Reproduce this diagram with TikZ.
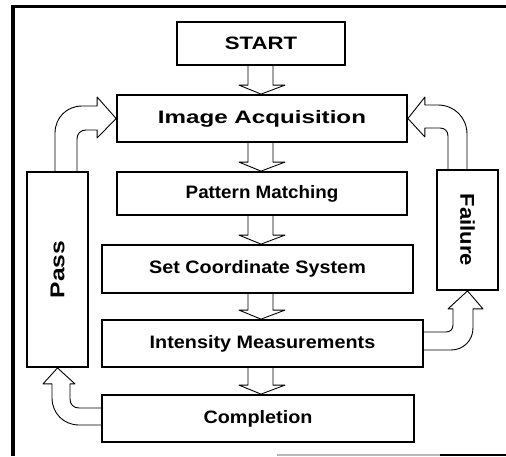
\documentclass[tikz,border=0pt]{standalone}
\usepackage{fontspec}
\setmainfont{Liberation Sans}[FakeStretch=1.1]
\usetikzlibrary{calc}
\tikzset{
  stepbox/.style={draw=black, line width=1.8pt, inner sep=0pt, font=\fontsize{18}{20}\selectfont\bfseries},
  sidebox/.style={draw=black, line width=1.8pt, inner sep=0pt, minimum width=61pt},
  sidetext/.style={font=\fontsize{20}{22}\selectfont\bfseries},
  arr/.style={draw=black, line width=0.9pt, line join=round}
}
\newcommand\hollowdown[2]{%
  \draw[arr] ($(axis |- #1.south)+(-13,0)$) -- ($(axis |- #2.north)+(-13,-9)$) -- ++(-9,0)
    -- (axis |- #2.north) -- ($(axis |- #2.north)+(24,-9)$) -- ++(-12,0)
    -- ($(axis |- #1.south)+(12,0)$);}
\begin{document}
\begin{tikzpicture}[x=1pt,y=-1pt]
\useasboundingbox (0,0) rectangle (506,456);
% frame
\draw[line width=3pt] (12,6.5) -- (506,6.5);
\draw[line width=3.5pt] (13,5) -- (13,456);
\draw[line width=2pt, gray!55] (277,455) -- (440,455);
\draw[line width=2.5pt] (440,455) -- (506,455);
\coordinate (axis) at (261,0);
% boxes
\node[stepbox, minimum width=168pt, minimum height=43pt] (start) at (261,43.5) {\scalebox{1.12}[1]{START}};
\node[stepbox, minimum width=290pt, minimum height=47pt] (ia) at (262,118.5) {\scalebox{1.22}[1]{Image Acquisition}};
\node[stepbox, minimum width=290pt, minimum height=43pt] (pm) at (262,193.5) {\scalebox{0.95}[1]{Pattern Matching}};
\node[stepbox, minimum width=311pt, minimum height=48pt] (scs) at (257.5,269) {Set Coordinate System};
\node[stepbox, minimum width=321pt, minimum height=47pt] (im) at (262.5,343.5) {Intensity Measurements};
\node[stepbox, minimum width=312pt, minimum height=47pt] (comp) at (258,418.5) {Completion};
\node[sidebox, minimum height=195pt] (pass) at (57.5,269.5) {};
\node[sidetext, rotate=90] (passlbl) at (pass.center) {\scalebox{1.12}[1]{Pass}};
\node[sidebox, minimum height=120pt] (fail) at (467.5,230) {};
\node[sidetext, rotate=-90] (faillbl) at (fail.center) {Failure};
% straight hollow arrows
\hollowdown{start}{ia}
\hollowdown{ia}{pm}
\hollowdown{pm}{scs}
\hollowdown{scs}{im}
\hollowdown{im}{comp}
% Pass -> Image Acquisition
\draw[arr] ($(pass.north)+(-2.5,0)$) -- ($(pass.north)+(-2.5,-38)$)
  .. controls +(0,-15.4) and +(-15.4,0) .. ($(ia.west)+(-34,-12.5)$)
  -- ($(ia.west)+(-19,-12.5)$) -- ++(0,-9) -- (ia.west) -- ($(ia.west)+(-19,19.5)$) -- ++(0,-8)
  -- ($(ia.west)+(-30,11.5)$) .. controls +(-5.5,0) and +(0,-5.5) .. ($(pass.north)+(19.5,-32)$)
  -- ($(pass.north)+(19.5,0)$);
% Failure -> Image Acquisition
\draw[arr] ($(fail.north)+(-19.5,0)$) -- ($(fail.north)+(-19.5,-33)$)
  .. controls +(0,-5) and +(5,0) .. ($(ia.east)+(32,9.5)$)
  -- ($(ia.east)+(17,9.5)$) -- ++(0,9) -- (ia.east) -- ($(ia.east)+(17,-21.5)$) -- ++(0,8)
  -- ($(ia.east)+(30,-13.5)$) .. controls +(16.5,0) and +(0,-16.5) .. ($(fail.north)+(-0.5,-35)$)
  -- ($(fail.north)+(-0.5,0)$);
% Intensity Measurements -> Failure
\draw[arr] ($(im.east)+(0,-11.5)$) -- ($(im.east)+(22,-11.5)$)
  .. controls +(4.4,0) and +(0,4.4) .. ($(fail.south)+(-14.5,34)$)
  -- ($(fail.south)+(-14.5,18)$) -- ++(-5,0) -- (fail.south) -- ($(fail.south)+(15.5,18)$) -- ++(-10,0)
  -- ($(fail.south)+(5.5,37)$) .. controls +(0,12.6) and +(12.6,0) .. ($(im.east)+(27,6.5)$)
  -- ($(im.east)+(0,6.5)$);
% Completion -> Pass
\draw[arr] ($(comp.west)+(0,-10.5)$) -- ($(comp.west)+(-22,-10.5)$)
  .. controls +(-5.5,0) and +(0,5.5) .. ($(pass.south)+(12.5,31)$)
  -- ($(pass.south)+(12.5,16)$) -- ++(5,0) -- (pass.south) -- ($(pass.south)+(-14.5,16)$) -- ++(9,0)
  -- ($(pass.south)+(-5.5,30)$) .. controls +(0,15.4) and +(-15.4,0) .. ($(comp.west)+(-22,6.5)$)
  -- ($(comp.west)+(0,6.5)$);
\end{tikzpicture}
\end{document}
